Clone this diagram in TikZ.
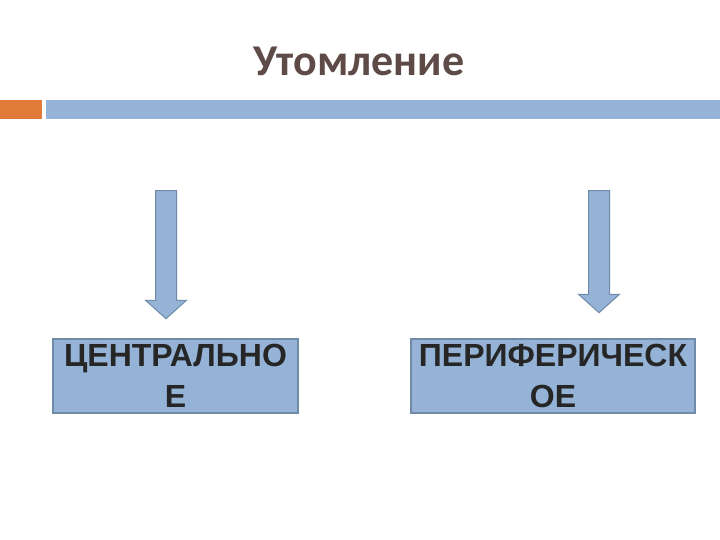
\documentclass[tikz,border=0pt]{standalone}
\usepackage{fontspec}
\setmainfont{Liberation Sans}
\newfontfamily\titlefont{Carlito}
\usetikzlibrary{positioning,shapes.arrows}
\definecolor{titlebrown}{HTML}{5E4B47}
\definecolor{barorange}{HTML}{E07B39}
\definecolor{boxblue}{HTML}{95B3D7}
\definecolor{boxline}{HTML}{6F8BA8}
\begin{document}
\begin{tikzpicture}[x=1pt, y=-1pt,
    kind/.style={rectangle, draw=boxline, line width=1.2pt, fill=boxblue, minimum height=74pt,
        inner sep=0pt, align=center, font=\fontsize{32}{41}\selectfont\bfseries, text=black!85},
    downarrow/.style={single arrow, draw=boxline, line width=1pt, fill=boxblue, rotate=-90,
        text height=20pt, text depth=0pt, single arrow head extend=10pt, single arrow tip angle=96, inner sep=0pt}]
    \useasboundingbox (0,0) rectangle (720,540);
    \node[font=\titlefont\fontsize{44}{52}\selectfont\bfseries, text=titlebrown, anchor=base] (title) at (359,76) {Утомление};
    \fill[barorange] (0,100) rectangle (42,119);
    \fill[boxblue] (46,100) rectangle (720,119);
    \node[kind, minimum width=245pt] (central) at (175.5,376) {ЦЕНТРАЛЬНО\\Е};
    \node[kind, minimum width=284pt] (periph) at (553,376) {ПЕРИФЕРИЧЕСК\\ОЕ};
    \node[downarrow, minimum height=128pt] (arrowc) at (166,250) {};
    \node[downarrow, minimum height=122pt] (arrowp) at (599,247) {};
\end{tikzpicture}
\end{document}
